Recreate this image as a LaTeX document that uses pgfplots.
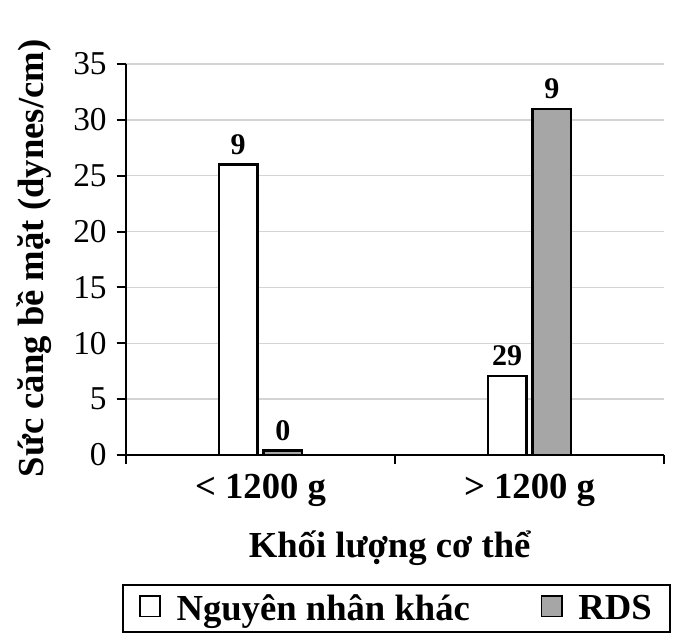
\documentclass[border=0pt]{standalone}
\usepackage{fontspec}
\setmainfont{Liberation Serif}
\usepackage{pgfplots}
\pgfplotsset{compat=1.18}
\definecolor{gridgray}{HTML}{D4D4D4}
\definecolor{bargray}{HTML}{A6A6A6}
\begin{document}
\begin{tikzpicture}
\path[use as bounding box] (-94.5pt,-138.75pt) rectangle (412.5pt,341.25pt);
\begin{axis}[
  at={(0pt,0pt)}, anchor=south west,
  scale only axis, width=403.5pt, height=293.25pt,
  ybar=4.5pt, bar width=29pt,
  xmin=-0.5, xmax=1.5, ymin=0, ymax=35,
  ytick={0,5,...,35},
  xtick={0,1}, xticklabels={< 1200 g, > 1200 g},
  minor xtick={-0.5,0.5,1.5},
  axis lines=left,
  axis line style={-, black, line width=1.8pt},
  tick align=outside, major tick length=7pt, minor tick length=7pt,
  major x tick style={draw=none},
  minor x tick style={black, line width=1.5pt},
  major y tick style={black, line width=1.5pt},
  ymajorgrids, grid style={gridgray, line width=1pt},
  /pgf/number format/assume math mode=true,
  yticklabel style={font=\fontsize{25}{30}\selectfont, xshift=-4pt},
  xticklabel style={font=\bfseries\fontsize{27.5}{33}\selectfont, yshift=-4pt},
  ylabel={Sức căng bề mặt (dynes/cm)},
  ylabel style={at={(axis description cs:-0.154,0.5026)}, anchor=base, font=\bfseries\fontsize{27.5}{33}\selectfont},
  xlabel={Khối lượng cơ thể},
  xlabel style={at={(axis description cs:0.49,-0.261)}, anchor=base, font=\bfseries\fontsize{27.5}{33}\selectfont},
  point meta=explicit symbolic,
  nodes near coords,
  nodes near coords style={font=\bfseries\fontsize{22.5}{27}\selectfont, black, yshift=3pt},
  legend columns=2,
  legend style={at={(0.503,-0.3926)}, anchor=center, draw=black, line width=1.5pt,
    inner xsep=12pt, inner ysep=5pt,
    font=\bfseries\fontsize{27.5}{33}\selectfont,
    /tikz/every odd column/.append style={column sep=9.5pt},
    /tikz/every even column/.append style={column sep=51pt}},
  legend image code/.code={\draw[#1, line width=1.3pt] (0pt,-6pt) rectangle (15.5pt,9.5pt);},
]
\addplot[fill=white, draw=black, line width=1.6pt] coordinates {(0,26) [9] (1,7.1) [29]};
\addplot[fill=bargray, draw=black, line width=1.6pt] coordinates {(0,0.4) [0] (1,31) [9]};
\legend{Nguyên nhân khác, RDS}
\end{axis}
\end{tikzpicture}
\end{document}
